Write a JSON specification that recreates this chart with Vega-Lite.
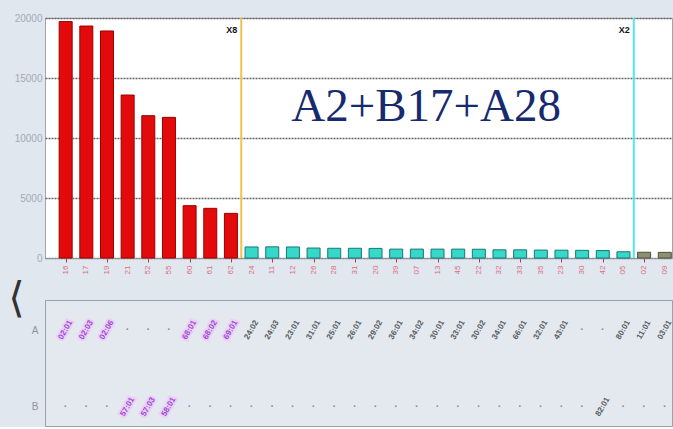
{
  "$schema": "https://vega.github.io/schema/vega-lite/v6.json",
  "background": "#e1e7ee",
  "padding": {"left": 1, "top": 12, "right": 0, "bottom": 0},
  "spacing": 42,
  "bounds": "flush",
  "resolve": {"scale": {"color": "independent"}},
  "config": {"font": "Liberation Sans"},
  "datasets": {
    "bars": [
      {"i": 1, "v": 19700, "g": "pos", "t": "16"}, {"i": 2, "v": 19330, "g": "pos", "t": "17"}, {"i": 3, "v": 18920, "g": "pos", "t": "19"},
      {"i": 4, "v": 13580, "g": "pos", "t": "21"}, {"i": 5, "v": 11860, "g": "pos", "t": "52"}, {"i": 6, "v": 11720, "g": "pos", "t": "55"},
      {"i": 7, "v": 4360, "g": "pos", "t": "60"}, {"i": 8, "v": 4140, "g": "pos", "t": "61"}, {"i": 9, "v": 3720, "g": "pos", "t": "62"},
      {"i": 10, "v": 920, "g": "mid", "t": "24"}, {"i": 11, "v": 930, "g": "mid", "t": "11"}, {"i": 12, "v": 920, "g": "mid", "t": "12"},
      {"i": 13, "v": 830, "g": "mid", "t": "26"}, {"i": 14, "v": 810, "g": "mid", "t": "28"}, {"i": 15, "v": 810, "g": "mid", "t": "31"},
      {"i": 16, "v": 800, "g": "mid", "t": "20"}, {"i": 17, "v": 740, "g": "mid", "t": "39"}, {"i": 18, "v": 740, "g": "mid", "t": "07"},
      {"i": 19, "v": 740, "g": "mid", "t": "13"}, {"i": 20, "v": 740, "g": "mid", "t": "45"}, {"i": 21, "v": 730, "g": "mid", "t": "22"},
      {"i": 22, "v": 680, "g": "mid", "t": "32"}, {"i": 23, "v": 680, "g": "mid", "t": "33"}, {"i": 24, "v": 660, "g": "mid", "t": "35"},
      {"i": 25, "v": 650, "g": "mid", "t": "23"}, {"i": 26, "v": 640, "g": "mid", "t": "30"}, {"i": 27, "v": 620, "g": "mid", "t": "42"},
      {"i": 28, "v": 520, "g": "mid", "t": "05"}, {"i": 29, "v": 480, "g": "low", "t": "02"}, {"i": 30, "v": 470, "g": "low", "t": "09"}
    ],
    "rules": [
      {"x": 9.5, "name": "X8"},
      {"x": 28.5, "name": "X2"}
    ],
    "title": [{"label": "A2+B17+A28"}],
    "alleles": [
      {"i": 1, "ri": 2, "txt": "02:01", "kind": "p"},
      {"i": 2, "ri": 2, "txt": "02:03", "kind": "p"},
      {"i": 3, "ri": 2, "txt": "02:06", "kind": "p"},
      {"i": 4, "ri": 2, "txt": "", "kind": "d"},
      {"i": 5, "ri": 2, "txt": "", "kind": "d"},
      {"i": 6, "ri": 2, "txt": "", "kind": "d"},
      {"i": 7, "ri": 2, "txt": "68:01", "kind": "p"},
      {"i": 8, "ri": 2, "txt": "68:02", "kind": "p"},
      {"i": 9, "ri": 2, "txt": "69:01", "kind": "p"},
      {"i": 10, "ri": 2, "txt": "24:02", "kind": "g"},
      {"i": 11, "ri": 2, "txt": "24:03", "kind": "g"},
      {"i": 12, "ri": 2, "txt": "23:01", "kind": "g"},
      {"i": 13, "ri": 2, "txt": "31:01", "kind": "g"},
      {"i": 14, "ri": 2, "txt": "25:01", "kind": "g"},
      {"i": 15, "ri": 2, "txt": "26:01", "kind": "g"},
      {"i": 16, "ri": 2, "txt": "29:02", "kind": "g"},
      {"i": 17, "ri": 2, "txt": "36:01", "kind": "g"},
      {"i": 18, "ri": 2, "txt": "34:02", "kind": "g"},
      {"i": 19, "ri": 2, "txt": "30:01", "kind": "g"},
      {"i": 20, "ri": 2, "txt": "33:01", "kind": "g"},
      {"i": 21, "ri": 2, "txt": "30:02", "kind": "g"},
      {"i": 22, "ri": 2, "txt": "34:01", "kind": "g"},
      {"i": 23, "ri": 2, "txt": "66:01", "kind": "g"},
      {"i": 24, "ri": 2, "txt": "32:01", "kind": "g"},
      {"i": 25, "ri": 2, "txt": "43:01", "kind": "g"},
      {"i": 26, "ri": 2, "txt": "", "kind": "d"},
      {"i": 27, "ri": 2, "txt": "", "kind": "d"},
      {"i": 28, "ri": 2, "txt": "80:01", "kind": "g"},
      {"i": 29, "ri": 2, "txt": "11:01", "kind": "g"},
      {"i": 30, "ri": 2, "txt": "03:01", "kind": "g"},
      {"i": 1, "ri": 1, "txt": "", "kind": "d"},
      {"i": 2, "ri": 1, "txt": "", "kind": "d"},
      {"i": 3, "ri": 1, "txt": "", "kind": "d"},
      {"i": 4, "ri": 1, "txt": "57:01", "kind": "p"},
      {"i": 5, "ri": 1, "txt": "57:03", "kind": "p"},
      {"i": 6, "ri": 1, "txt": "58:01", "kind": "p"},
      {"i": 7, "ri": 1, "txt": "", "kind": "d"},
      {"i": 8, "ri": 1, "txt": "", "kind": "d"},
      {"i": 9, "ri": 1, "txt": "", "kind": "d"},
      {"i": 10, "ri": 1, "txt": "", "kind": "d"},
      {"i": 11, "ri": 1, "txt": "", "kind": "d"},
      {"i": 12, "ri": 1, "txt": "", "kind": "d"},
      {"i": 13, "ri": 1, "txt": "", "kind": "d"},
      {"i": 14, "ri": 1, "txt": "", "kind": "d"},
      {"i": 15, "ri": 1, "txt": "", "kind": "d"},
      {"i": 16, "ri": 1, "txt": "", "kind": "d"},
      {"i": 17, "ri": 1, "txt": "", "kind": "d"},
      {"i": 18, "ri": 1, "txt": "", "kind": "d"},
      {"i": 19, "ri": 1, "txt": "", "kind": "d"},
      {"i": 20, "ri": 1, "txt": "", "kind": "d"},
      {"i": 21, "ri": 1, "txt": "", "kind": "d"},
      {"i": 22, "ri": 1, "txt": "", "kind": "d"},
      {"i": 23, "ri": 1, "txt": "", "kind": "d"},
      {"i": 24, "ri": 1, "txt": "", "kind": "d"},
      {"i": 25, "ri": 1, "txt": "", "kind": "d"},
      {"i": 26, "ri": 1, "txt": "", "kind": "d"},
      {"i": 27, "ri": 1, "txt": "82:01", "kind": "g"},
      {"i": 28, "ri": 1, "txt": "", "kind": "d"},
      {"i": 29, "ri": 1, "txt": "", "kind": "d"},
      {"i": 30, "ri": 1, "txt": "", "kind": "d"}
    ]
  },
  "vconcat": [
    {
      "width": 627,
      "height": 240,
      "view": {"fill": "#ffffff", "stroke": "#9ea5ad"},
      "layer": [
        {
          "data": {"name": "bars"},
          "mark": {"type": "bar", "width": 13, "strokeWidth": 1},
          "encoding": {
            "x": {
              "field": "i", "type": "quantitative",
              "scale": {"domain": [0, 30.35], "nice": false, "padding": 0},
              "axis": {
                "values": [1,2,3,4,5,6,7,8,9,10,11,12,13,14,15,16,17,18,19,20,21,22,23,24,25,26,27,28,29,30],
                "labels": false,
                "tickColor": "#a8404f",
                "tickSize": 4,
                "domainColor": "#8e959c",
                "grid": false,
                "title": null
              }
            },
            "y": {
              "field": "v", "type": "quantitative",
              "scale": {"domain": [0, 20000], "nice": false, "padding": 0},
              "axis": {
                "values": [0, 5000, 10000, 15000, 20000],
                "format": "d",
                "labelColor": "#a1abb7",
                "labelFontSize": 10,
                "tickSize": 0,
                "labelPadding": 3,
                "domain": false,
                "gridColor": "#666666",
                "gridDash": [2, 1],
                "gridWidth": 1.3,
                "title": null,
                "minExtent": 43,
                "maxExtent": 43
              }
            },
            "fill": {
              "field": "g", "type": "nominal",
              "scale": {"domain": ["pos", "mid", "low"], "range": ["#e20a0a", "#36d8c8", "#8e8e70"]},
              "legend": null
            },
            "stroke": {
              "field": "g", "type": "nominal",
              "scale": {"domain": ["pos", "mid", "low"], "range": ["#9a0000", "#16767a", "#4e4e3e"]},
              "legend": null
            }
          }
        },
        {
          "data": {"name": "bars"},
          "mark": {"type": "text", "angle": 270, "align": "center", "baseline": "middle", "dx": -12, "fontSize": 8, "color": "#dd6b85"},
          "encoding": {
            "x": {"field": "i", "type": "quantitative"},
            "y": {"datum": 0},
            "text": {"field": "t"}
          }
        },
        {
          "data": {"name": "rules"},
          "mark": {"type": "rule", "strokeWidth": 2},
          "encoding": {
            "x": {"field": "x", "type": "quantitative"},
            "color": {
              "field": "name", "type": "nominal",
              "scale": {"domain": ["X8", "X2"], "range": ["#f1c24a", "#52e6ee"]},
              "legend": null
            }
          }
        },
        {
          "data": {"name": "rules"},
          "mark": {"type": "text", "align": "right", "baseline": "middle", "dx": -4, "fontWeight": "bold", "fontSize": 9, "color": "#111111"},
          "encoding": {
            "x": {"field": "x", "type": "quantitative"},
            "y": {"datum": 19000},
            "text": {"field": "name"}
          }
        },
        {
          "data": {"name": "title"},
          "mark": {"type": "text", "font": "Liberation Serif", "fontSize": 47, "color": "#172a6e", "align": "center", "baseline": "alphabetic"},
          "encoding": {
            "x": {"datum": 18.45},
            "y": {"datum": 11400},
            "text": {"field": "label"}
          }
        }
      ]
    },
    {
      "width": 627,
      "height": 126,
      "view": {"fill": "#e4e9ef", "stroke": "#9aa1a9"},
      "data": {"name": "alleles"},
      "encoding": {
        "x": {"field": "i", "type": "quantitative", "scale": {"domain": [0, 30.35], "nice": false, "padding": 0}, "axis": null},
        "y": {
          "field": "ri", "type": "quantitative",
          "scale": {"domain": [0.753, 2.39], "nice": false, "zero": false, "padding": 0},
          "axis": {
            "values": [1, 2],
            "labelExpr": "datum.value == 2 ? 'A' : 'B'",
            "labelColor": "#8a94a0",
            "labelFontSize": 10,
            "tickSize": 0,
            "labelPadding": 7,
            "domainColor": "#9aa1a9",
            "grid": false,
            "title": "⟨",
            "titleAngle": 0,
            "titleFontSize": 42,
            "titleFontWeight": "normal",
            "titleFont": "DejaVu Sans",
            "titleColor": "#333333",
            "titleAlign": "center",
            "titleBaseline": "middle",
            "titleX": -29,
            "titleY": -2,
            "minExtent": 43,
            "maxExtent": 43
          }
        }
      },
      "layer": [
        {
          "transform": [{"filter": "datum.kind == 'p'"}],
          "mark": {"type": "text", "clip": true, "angle": 300, "fontSize": 8, "fontWeight": "bold", "stroke": "#ebd1f7", "strokeWidth": 4, "color": "#ebd1f7"},
          "encoding": {"text": {"field": "txt"}}
        },
        {
          "transform": [{"filter": "datum.kind != 'd'"}],
          "mark": {"type": "text", "clip": true, "angle": 300, "fontSize": 8, "fontWeight": "bold"},
          "encoding": {
            "text": {"field": "txt"},
            "color": {
              "field": "kind", "type": "nominal",
              "scale": {"domain": ["p", "g"], "range": ["#9a48d0", "#555a60"]},
              "legend": null
            }
          }
        },
        {
          "transform": [{"filter": "datum.kind == 'd'"}],
          "mark": {"type": "text", "clip": true, "text": "·", "fontSize": 11, "fontWeight": "bold", "color": "#8a9099"},
          "encoding": {}
        }
      ]
    }
  ]
}
